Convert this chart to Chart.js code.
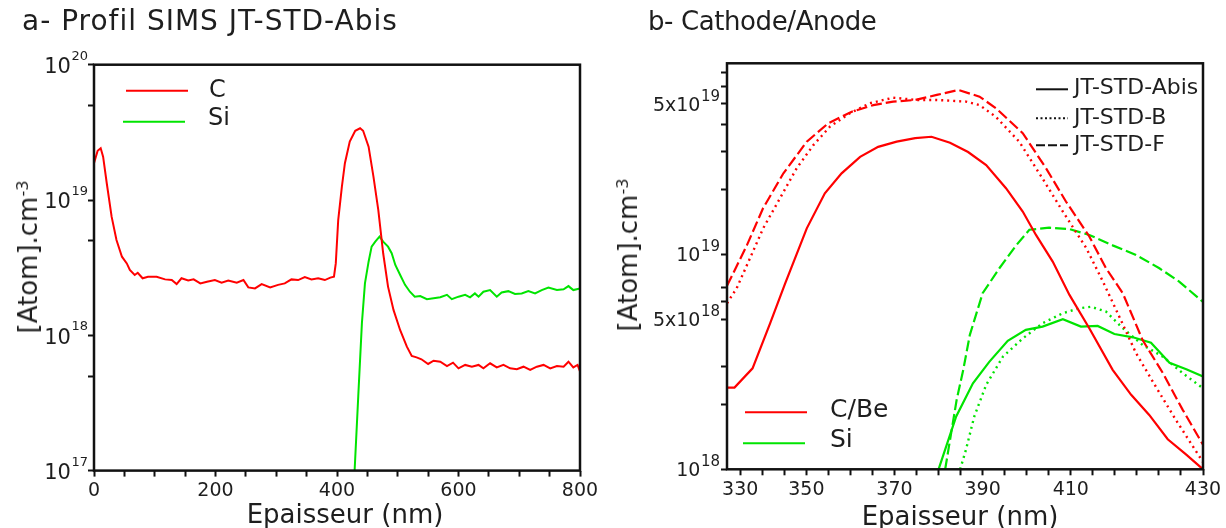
<!DOCTYPE html>
<html><head><meta charset="utf-8">
<script src="https://cdn.jsdelivr.net/npm/chart.js@4.4.1/dist/chart.umd.min.js"></script>
<style>
html,body{margin:0;padding:0;background:#fff;width:1226px;height:528px;overflow:hidden;font-family:'DejaVu Sans',sans-serif;color:#1e1e1e}
.box{position:absolute;top:0;height:528px}
.t{position:absolute;white-space:nowrap;line-height:1}
.c{transform:translate(-50%,-50%)}
.r{transform:translate(-50%,-50%) rotate(-90deg)}
sup{font-size:0.62em;vertical-align:0;position:relative;top:-0.55em}
</style>
</head><body>
<div class="box" style="left:0;width:610px"><canvas id="ca"></canvas></div>
<div class="box" style="left:610px;width:616px"><canvas id="cb"></canvas></div>
<div class="t" style="left:22px;top:7px;font-size:28px;letter-spacing:1px">a- Profil SIMS JT-STD-Abis</div>
<div class="t" style="left:648px;top:8px;font-size:26px;letter-spacing:-0.4px">b- Cathode/Anode</div>
<div class="t c" style="left:345px;top:514px;font-size:26px">Epaisseur (nm)</div>
<div class="t c" style="left:960px;top:516px;font-size:26px">Epaisseur (nm)</div>
<div class="t r" style="left:28px;top:257px;font-size:26px">[Atom].cm<sup>-3</sup></div>
<div class="t r" style="left:628px;top:255px;font-size:26px">[Atom].cm<sup>-3</sup></div>
<script>
// ---------- Panel a : SIMS profile (x in nm, y in atoms/cm3) ----------
const aCX = [0,6,11,15,21,29,37,46,54,59,67,72,80,89,103,117,128,136,144,155,164,175,186,199,210,221,235,246,254,265,276,290,303,314,325,336,347,358,369,380,389,395,398,402,408,413,421,430,438,443,452,460,468,476,484,493,504,515,523,531,539,550,559,570,581,591,600,611,622,633,641,652,663,674,685,696,707,718,729,740,751,762,773,781,789,796,800];
const aC = [1.87e19,2.31e19,2.41e19,2.09e19,1.33e19,7.53e18,5.06e18,3.81e18,3.40e18,3.04e18,2.79e18,2.90e18,2.64e18,2.71e18,2.71e18,2.59e18,2.56e18,2.39e18,2.64e18,2.54e18,2.59e18,2.42e18,2.49e18,2.56e18,2.45e18,2.54e18,2.45e18,2.56e18,2.26e18,2.22e18,2.39e18,2.26e18,2.36e18,2.42e18,2.59e18,2.56e18,2.69e18,2.59e18,2.64e18,2.56e18,2.67e18,2.71e18,3.40e18,7.11e18,1.25e19,1.87e19,2.70e19,3.25e19,3.39e19,3.25e19,2.48e19,1.49e19,8.43e18,4.04e18,2.29e18,1.54e18,1.09e18,8.24e17,7.03e17,6.87e17,6.65e17,6.14e17,6.49e17,6.38e17,5.93e17,6.28e17,5.70e17,6.04e17,5.86e17,6.04e17,5.70e17,6.21e17,5.79e17,6.04e17,5.70e17,5.61e17,5.86e17,5.55e17,5.86e17,6.04e17,5.70e17,5.93e17,5.86e17,6.38e17,5.79e17,6.04e17,5.4e17];
const aSiX = [429,435,441,446,452,457,463,470,476,484,490,496,504,512,520,528,537,548,559,570,581,589,600,611,619,627,633,641,652,663,671,682,693,704,715,726,737,748,762,773,781,789,800];
const aSi = [1.0e17,3.55e17,1.23e18,2.42e18,3.50e18,4.52e18,4.92e18,5.36e18,4.92e18,4.52e18,4.04e18,3.31e18,2.79e18,2.36e18,2.10e18,1.93e18,1.95e18,1.85e18,1.88e18,1.91e18,1.99e18,1.85e18,1.93e18,1.99e18,1.91e18,2.04e18,1.93e18,2.10e18,2.16e18,1.93e18,2.07e18,2.12e18,2.02e18,2.04e18,2.12e18,2.04e18,2.16e18,2.25e18,2.16e18,2.19e18,2.31e18,2.16e18,2.22e18];
const aXTickValues = [0,50,100,150,200,250,300,350,400,450,500,550,600,650,700,750,800];
const aXTickLabels = ['0','','','','200','','','','400','','','','600','','','','800'];
const aYTickValues = [1e17,5e17,1e18,5e18,1e19,5e19,1e20];
const aYTickLabels = ['10^17','','10^18','','10^19','','10^20'];

// ---------- Panel b : Cathode/Anode (x in nm, y in atoms/cm3) ----------
const bCAbisX = [327,328.7,332.8,336.8,340.2,345.1,349.2,353.0,357.2,361.3,365.5,369.7,373.4,377.6,381.7,385.8,390.3,394.1,397.1,400.9,404.7,409.2,414.5,418.7,422.8,427.0,431.2,435];
const bCAbis = [2.40e18,2.40e18,2.95e18,4.78e18,7.33e18,1.32e19,1.92e19,2.38e19,2.84e19,3.16e19,3.34e19,3.47e19,3.52e19,3.30e19,2.99e19,2.60e19,2.03e19,1.58e19,1.23e19,9.25e18,6.47e18,4.53e18,2.90e18,2.22e18,1.79e18,1.38e18,1.17e18,1.0e18];
const bCBX = [327,329.2,332.2,335.2,339.0,342.8,346.6,350.4,354.9,359.4,364.7,370.0,374.6,381.2,384.3,388.0,393.3,398.6,403.2,408.5,412.3,415.3,419.8,424.3,428.9,435];
const bCB = [5.92e18,6.95e18,9.57e18,1.32e19,1.82e19,2.51e19,3.22e19,3.93e19,4.53e19,5.04e19,5.35e19,5.22e19,5.22e19,5.13e19,4.94e19,4.36e19,3.34e19,2.25e19,1.58e19,1.07e19,7.46e18,5.51e18,3.47e18,2.42e18,1.69e18,1.08e18];
const bCFX = [327,331.5,335.2,339.8,345.1,350.0,355.3,360.2,364.7,369.7,374.6,379.5,384.3,388.0,394.1,399.4,403.9,409.2,413.0,416.8,421.3,425.9,430.4,435];
const bCF = [7.13e18,1.10e19,1.64e19,2.38e19,3.34e19,4.07e19,4.60e19,4.94e19,5.13e19,5.22e19,5.51e19,5.81e19,5.41e19,4.78e19,3.66e19,2.51e19,1.76e19,1.21e19,8.61e18,6.59e18,3.99e18,2.80e18,1.89e18,1.30e18];
const bSiAbisX = [375.0,379.0,382.8,386.5,390.7,394.8,398.6,403.2,407.3,411.1,414.9,419.1,423.2,427.4,431.2,435];
const bSiAbis = [1.0e18,1.76e18,2.51e18,3.16e18,3.96e18,4.45e18,4.61e18,4.99e18,4.61e18,4.64e18,4.26e18,4.11e18,3.88e18,3.13e18,2.92e18,2.70e18];
const bSiBX = [379.9,381.2,383.1,385.8,389.6,394.1,398.6,403.2,406.9,409.6,413.0,416.8,421.3,425.9,430.4,435];
const bSiB = [1.0e18,1.23e18,1.76e18,2.47e18,3.34e18,4.06e18,4.78e18,5.32e18,5.61e18,5.70e18,5.41e18,4.53e18,3.79e18,3.34e18,2.80e18,2.38e18];
const bSiFX = [376.5,379.1,380.6,382.1,385.0,388.8,392.6,395.6,400.1,404.7,409.2,414.5,419.8,425.1,429.6,435];
const bSiF = [1.0e18,2.10e18,2.90e18,4.22e18,6.59e18,8.61e18,1.10e19,1.30e19,1.33e19,1.31e19,1.23e19,1.10e19,9.93e18,8.61e18,7.46e18,6.00e18];
const bXTickValues = [330,335,340,345,350,355,360,365,370,375,380,385,390,395,400,405,410,415,420,425,430,435];
const bXTickLabels = ['330','','','350','','','','370','','','','390','','','','410','','','','','','430'];
const bYTickValues = [1e18,2e18,3e18,5e18,6e18,7e18,1e19,2e19,3e19,4e19,5e19,6e19,7e19];
const bYTickLabels = ['10^18','','','5x10^18','','','10^19','','','','5x10^19','',''];

const FONT = "'DejaVu Sans', sans-serif";
const TXT = '#1e1e1e';
const RED = '#ff0000';
const GREEN = '#00e400';
const pts = (xs, ys) => xs.map((x, i) => ({x: x, y: ys[i]}));
const labelFor = (vals, labs) => (v) => { const i = vals.indexOf(v); return i < 0 ? '' : labs[i]; };

const framePlugin = {
  id: 'frame',
  afterDatasetsDraw(chart) {
    const {ctx, chartArea: a} = chart;
    ctx.save();
    ctx.strokeStyle = '#111';
    ctx.lineWidth = 2.5;
    ctx.strokeRect(a.left, a.top, a.right - a.left, a.bottom - a.top);
    ctx.restore();
  }
};

// y tick labels with a raised exponent ("10^19" -> 10 + superscript 19)
function powerLabels(vals, labs, baseSize, expSize, gap, dyBase, dyExp) {
  return {
    id: 'powerLabels',
    afterDraw(chart) {
      const {ctx} = chart;
      const s = chart.scales.y;
      ctx.save();
      ctx.fillStyle = TXT;
      vals.forEach((v, i) => {
        const lab = labs[i];
        if (!lab) return;
        const parts = lab.split('^');
        const y = s.getPixelForValue(v);
        const right = s.right - gap;
        ctx.font = expSize + 'px ' + FONT;
        const ew = ctx.measureText(parts[1]).width;
        ctx.textAlign = 'left';
        ctx.textBaseline = 'alphabetic';
        ctx.fillText(parts[1], right - ew, y + dyExp);
        ctx.font = baseSize + 'px ' + FONT;
        ctx.textAlign = 'right';
        ctx.textBaseline = 'middle';
        ctx.fillText(parts[0], right - ew - 0.5, y + dyBase);
      });
      ctx.restore();
    }
  };
}

function legendPlugin(build) {
  return {
    id: 'customLegend',
    afterDraw(chart) {
      const {ctx, chartArea: a} = chart;
      ctx.save();
      build(a).forEach(it => {
        ctx.beginPath();
        ctx.strokeStyle = it.color;
        ctx.lineWidth = it.w || 2;
        ctx.setLineDash(it.dash || []);
        ctx.moveTo(it.x1, it.y);
        ctx.lineTo(it.x2, it.y);
        ctx.stroke();
        ctx.setLineDash([]);
        ctx.fillStyle = TXT;
        ctx.font = it.font;
        ctx.textBaseline = 'middle';
        ctx.textAlign = 'left';
        ctx.fillText(it.text, it.tx, it.ty);
      });
      ctx.restore();
    }
  };
}

function axisX(min, max, vals, labs, h, size) {
  return {
    type: 'linear', min: min, max: max,
    afterBuildTicks: (s) => { s.ticks = vals.map(v => ({value: v})); },
    afterFit: (s) => { s.height = h; },
    ticks: {autoSkip: false, maxRotation: 0, padding: 3, color: TXT,
      font: {family: FONT, size: size}, callback: labelFor(vals, labs)},
    grid: {drawOnChartArea: false, drawTicks: true, tickLength: 6, tickWidth: 2, tickColor: '#111'},
    border: {display: false}
  };
}
function axisY(min, max, vals, w) {
  return {
    type: 'logarithmic', min: min, max: max,
    afterBuildTicks: (s) => { s.ticks = vals.map(v => ({value: v})); },
    afterFit: (s) => { s.width = w; },
    ticks: {display: false, autoSkip: false},
    grid: {drawOnChartArea: false, drawTicks: true, tickLength: 6, tickWidth: 2, tickColor: '#111'},
    border: {display: false}
  };
}

const common = {
  responsive: true, maintainAspectRatio: false, animation: false, devicePixelRatio: 1,
  plugins: {legend: {display: false}, tooltip: {enabled: false}},
  elements: {point: {radius: 0}, line: {tension: 0}}
};

new Chart(document.getElementById('ca'), {
  type: 'line',
  data: {datasets: [
    {label: 'C', data: pts(aCX, aC), borderColor: RED, borderWidth: 2},
    {label: 'Si', data: pts(aSiX, aSi), borderColor: GREEN, borderWidth: 2}
  ]},
  options: Object.assign({}, common, {
    layout: {padding: {top: 64.7, right: 30, left: 0, bottom: 0}},
    scales: {
      x: axisX(0, 800, aXTickValues, aXTickLabels, 528 - 470.6, 19),
      y: axisY(1e17, 1e20, aYTickValues, 94)
    }
  }),
  plugins: [framePlugin, powerLabels(aYTickValues, aYTickLabels, 21, 13, 6, 3, -5),
    legendPlugin(a => [
    {x1: a.left + 32, x2: a.left + 94, y: a.top + 26, color: RED, text: 'C', tx: a.left + 115, ty: a.top + 26, font: '24px ' + FONT},
    {x1: a.left + 29, x2: a.left + 91, y: a.top + 57, color: GREEN, text: 'Si', tx: a.left + 114, ty: a.top + 54, font: '24px ' + FONT}
  ])]
});

new Chart(document.getElementById('cb'), {
  type: 'line',
  data: {datasets: [
    {label: 'C JT-STD-Abis', data: pts(bCAbisX, bCAbis), borderColor: RED, borderWidth: 2.2},
    {label: 'C JT-STD-B', data: pts(bCBX, bCB), borderColor: RED, borderWidth: 2.4, borderDash: [2, 4]},
    {label: 'C JT-STD-F', data: pts(bCFX, bCF), borderColor: RED, borderWidth: 2.2, borderDash: [11, 4]},
    {label: 'Si JT-STD-Abis', data: pts(bSiAbisX, bSiAbis), borderColor: GREEN, borderWidth: 2.2},
    {label: 'Si JT-STD-B', data: pts(bSiBX, bSiB), borderColor: GREEN, borderWidth: 2.4, borderDash: [2, 4]},
    {label: 'Si JT-STD-F', data: pts(bSiFX, bSiF), borderColor: GREEN, borderWidth: 2.2, borderDash: [11, 4]}
  ]},
  options: Object.assign({}, common, {
    layout: {padding: {top: 63.3, right: 23, left: 0, bottom: 0}},
    scales: {
      x: axisX(327, 435, bXTickValues, bXTickLabels, 528 - 469.3, 19),
      y: axisY(1e18, 7.73e19, bYTickValues, 117)
    }
  }),
  plugins: [framePlugin, powerLabels(bYTickValues, bYTickLabels, 19, 15, 7, 2, -3),
    legendPlugin(a => [
    {x1: a.right - 167, x2: a.right - 135, y: a.top + 26, color: '#111', text: 'JT-STD-Abis', tx: a.right - 129, ty: a.top + 25, font: '22px ' + FONT},
    {x1: a.right - 167, x2: a.right - 135, y: a.top + 55, color: '#111', dash: [2, 2.5], text: 'JT-STD-B', tx: a.right - 129, ty: a.top + 55, font: '22px ' + FONT},
    {x1: a.right - 167, x2: a.right - 135, y: a.top + 82, color: '#111', dash: [9, 3], text: 'JT-STD-F', tx: a.right - 129, ty: a.top + 82, font: '22px ' + FONT},
    {x1: a.left + 18, x2: a.left + 80, y: a.bottom - 57, color: RED, text: 'C/Be', tx: a.left + 103, ty: a.bottom - 59, font: '25px ' + FONT},
    {x1: a.left + 16, x2: a.left + 78, y: a.bottom - 26, color: GREEN, text: 'Si', tx: a.left + 103, ty: a.bottom - 29, font: '25px ' + FONT}
  ])]
});
</script>
</body></html>
